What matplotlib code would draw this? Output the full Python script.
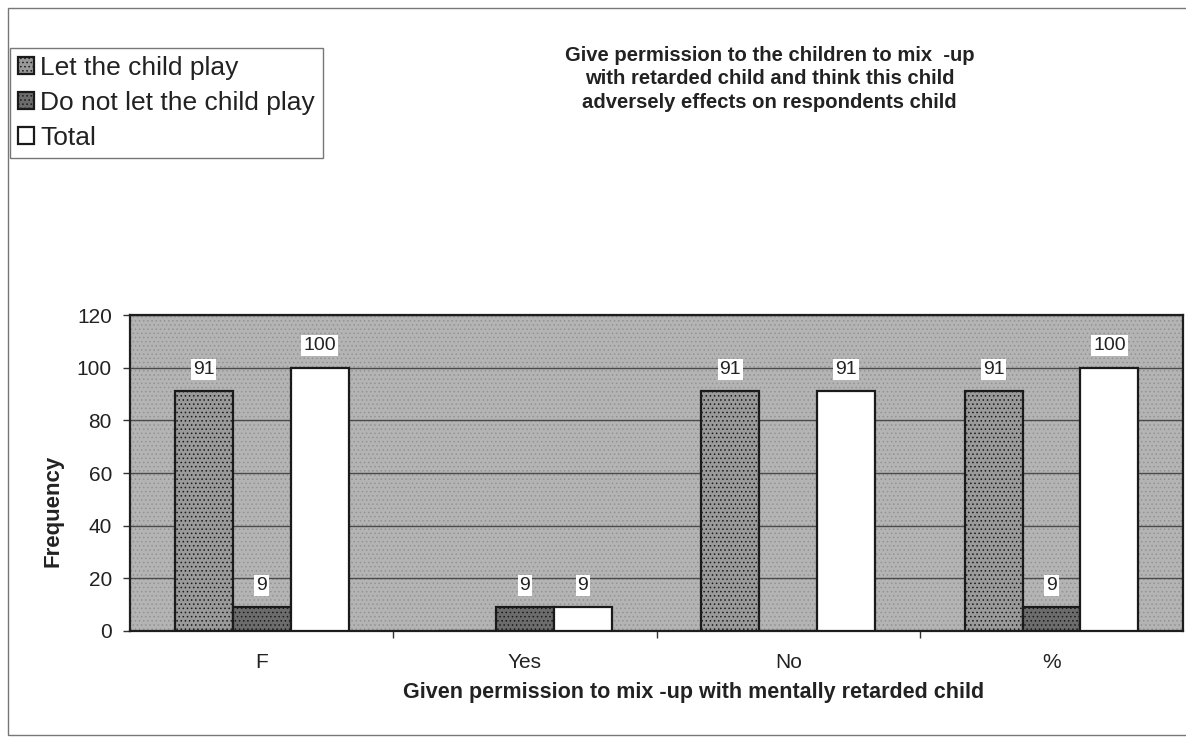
import numpy as np
import matplotlib
matplotlib.use("Agg")
import matplotlib.pyplot as plt
from matplotlib.patches import Rectangle

plt.rcParams['font.family'] = ['Liberation Sans', 'DejaVu Sans']
plt.rcParams['hatch.linewidth'] = 0.6

categories = ['F', 'Yes', 'No', '%']
let_play = [91, 0, 91, 91]
not_let_play = [9, 9, 0, 9]
total = [100, 9, 91, 100]

series_names = ['Let the child play', 'Do not let the child play', 'Total']
series_values = [let_play, not_let_play, total]
series_colors = ['#9a9a9a', '#6c6c6c', '#ffffff']
series_hatch = ['....', '....', None]

fig = plt.figure(figsize=(11.86, 7.38), dpi=100)
ax = fig.add_axes([0.1096, 0.145, 0.888, 0.428])

# stippled plot area
ax.set_facecolor('#b4b4b4')
ax.add_patch(Rectangle((0, 0), 1, 1, transform=ax.transAxes, facecolor='none',
                       edgecolor='#939393', hatch='....', linewidth=0, zorder=0))

x = np.arange(len(categories))
w = 0.22
for i, (name, vals) in enumerate(zip(series_names, series_values)):
    pos = x + (i - 1) * w
    bars = ax.bar(pos, vals, width=w, color=series_colors[i], edgecolor='#1a1a1a',
                  linewidth=1.6, label=name, zorder=3)
    if series_hatch[i]:
        for b in bars:
            b.set_hatch(series_hatch[i])
    for p, v in zip(pos, vals):
        if v == 0:
            continue
        ax.annotate(str(v), (p, v), xytext=(0, 16), textcoords='offset points',
                    ha='center', va='center', fontsize=14, color='#222222',
                    bbox=dict(boxstyle='square,pad=0.1', fc='white', ec='none'),
                    zorder=5)

ax.set_xlim(-0.5, len(categories) - 0.5)
ax.set_ylim(0, 120)
ax.set_yticks(range(0, 121, 20))
ax.yaxis.grid(True, color='#4a4a4a', linewidth=1.0, zorder=1)
ax.set_axisbelow(True)
ax.set_xticks(x)
ax.set_xticklabels(categories, fontsize=15, color='#222222')
ax.set_xticks(np.arange(0.5, len(categories) - 0.5, 1), minor=True)
ax.tick_params(axis='x', which='major', length=0, pad=16)
ax.tick_params(axis='x', which='minor', length=5, width=1, color='#333333')
ax.tick_params(axis='y', labelsize=15, labelcolor='#222222', length=5, width=1,
               color='#333333', pad=8)
for s in ax.spines.values():
    s.set_color('#1e1e1e')
    s.set_linewidth(1.6)

ax.set_ylabel('Frequency', fontsize=16, fontweight='bold', color='#222222')
ax.yaxis.set_label_coords(-0.0636, 0.38)
ax.set_xlabel('Given permission to mix -up with mentally retarded child', fontsize=15.5,
              fontweight='bold', color='#222222')
ax.xaxis.set_label_coords(0.535, -0.16)

fig.text(0.649, 0.938, 'Give permission to the children to mix  -up\n'
         'with retarded child and think this child\n'
         'adversely effects on respondents child',
         ha='center', va='top', fontsize=14.6, fontweight='bold', color='#222222',
         linespacing=1.3)

leg = fig.legend(loc='upper left', bbox_to_anchor=(0.0084, 0.935), fontsize=19,
                 frameon=True, fancybox=False, edgecolor='#555555',
                 handlelength=0.6, handleheight=0.6, handletextpad=0.25,
                 borderpad=0.3, labelspacing=0.42, borderaxespad=0)
leg.get_frame().set_linewidth(1.0)
for t in leg.get_texts():
    t.set_color('#222222')

# outer chart frame
fig.add_artist(Rectangle((0.007, 0.004), 0.995, 0.985, transform=fig.transFigure,
                         facecolor='none', edgecolor='#777777', linewidth=1.0))

fig.savefig('out.png', dpi=100)
